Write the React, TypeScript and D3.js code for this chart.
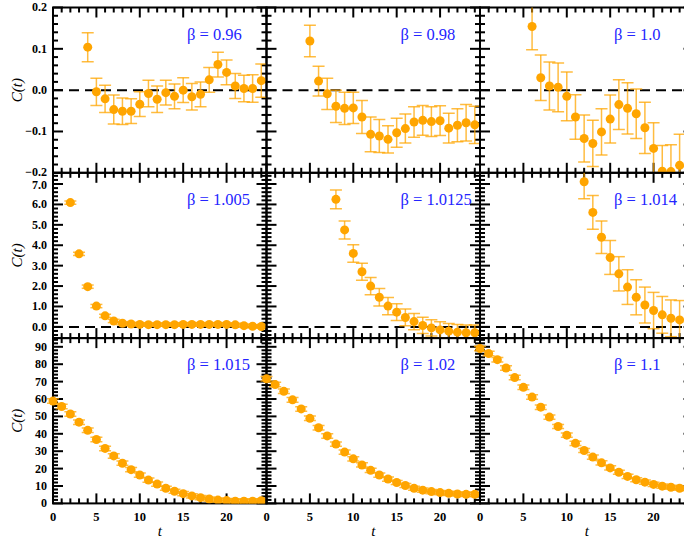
import React from 'react';
import * as d3 from 'd3';

// beta labels, panel order: row by row
const betas = ['0.96', '0.98', '1.0', '1.005', '1.0125', '1.014', '1.015', '1.02', '1.1'];
// first time slice of each series
const startT = [4, 5, 6, 2, 8, 12, 0, 0, 0];

const c096 = [0.104, -0.004, -0.021, -0.047, -0.051, -0.051, -0.034, -0.008, -0.022, -0.006, -0.015, 0.0, -0.016, -0.01, 0.025, 0.062, 0.043, 0.01, 0.004, 0.004, 0.023];
const e096 = [0.035, 0.033, 0.033, 0.035, 0.032, 0.03, 0.03, 0.032, 0.032, 0.03, 0.03, 0.03, 0.032, 0.03, 0.03, 0.03, 0.03, 0.03, 0.032, 0.033, 0.04];

const c098 = [0.119, 0.022, -0.009, -0.039, -0.044, -0.043, -0.065, -0.107, -0.111, -0.119, -0.103, -0.093, -0.077, -0.073, -0.076, -0.074, -0.092, -0.085, -0.079, -0.084];
const e098 = [0.038, 0.036, 0.038, 0.039, 0.039, 0.038, 0.04, 0.042, 0.04, 0.033, 0.035, 0.035, 0.037, 0.036, 0.036, 0.036, 0.036, 0.04, 0.044, 0.045];

const c100 = [0.154, 0.03, 0.01, 0.007, -0.015, -0.065, -0.117, -0.129, -0.101, -0.07, -0.035, -0.044, -0.057, -0.091, -0.141, -0.196, -0.197, -0.182];
const e100 = [0.056, 0.055, 0.058, 0.059, 0.059, 0.054, 0.057, 0.056, 0.056, 0.058, 0.06, 0.062, 0.06, 0.062, 0.062, 0.062, 0.065, 0.075];

const c1005 = [6.09, 3.58, 1.97, 1.02, 0.54, 0.29, 0.18, 0.14, 0.12, 0.11, 0.11, 0.11, 0.11, 0.12, 0.12, 0.12, 0.12, 0.12, 0.12, 0.1, 0.06, 0.03, 0.02];
const e1005 = [0.08, 0.08, 0.08, 0.08, 0.08, 0.08, 0.08, 0.08, 0.08, 0.08, 0.08, 0.08, 0.08, 0.08, 0.08, 0.08, 0.08, 0.08, 0.08, 0.08, 0.08, 0.08, 0.08];

const c10125 = [6.25, 4.75, 3.6, 2.7, 2.0, 1.45, 1.02, 0.72, 0.46, 0.26, 0.07, -0.05, -0.15, -0.21, -0.26, -0.29, -0.29];
const e10125 = [0.46, 0.44, 0.43, 0.42, 0.42, 0.43, 0.42, 0.41, 0.41, 0.4, 0.4, 0.4, 0.4, 0.38, 0.38, 0.38, 0.38];

const c1014 = [7.11, 5.61, 4.39, 3.4, 2.6, 1.95, 1.45, 1.07, 0.8, 0.59, 0.42, 0.34];
const e1014 = [0.83, 0.83, 0.8, 0.83, 0.84, 0.85, 0.86, 0.88, 0.89, 0.9, 0.9, 0.95];

const c1015 = [58.8, 55.7, 51.4, 46.7, 42.0, 36.7, 31.6, 27.3, 23.1, 19.4, 16.3, 13.4, 11.1, 8.7, 7.0, 5.6, 4.3, 3.3, 2.5, 1.9, 1.6, 1.3, 1.3, 1.3, 1.5];
const c102 = [71.6, 68.3, 64.4, 59.5, 54.3, 48.9, 43.5, 38.8, 34.1, 29.5, 25.6, 22.1, 19.0, 16.3, 14.0, 12.0, 10.3, 8.7, 7.6, 6.8, 6.2, 5.8, 5.4, 5.2, 5.2];
const c110 = [89.0, 86.1, 82.6, 77.8, 72.3, 66.7, 61.1, 55.3, 49.6, 44.2, 39.2, 34.5, 30.4, 26.6, 23.3, 20.4, 17.9, 15.5, 13.6, 12.2, 10.9, 9.9, 9.3, 8.7, 8.4];
const eBottom = [1.3, 1.3, 1.3, 1.3, 1.3, 1.3, 1.3, 1.3, 1.2, 1.2, 1.2, 1.2, 1.2, 1.2, 1.2, 1.2, 1.2, 1.2, 1.2, 1.2, 1.2, 1.2, 1.2, 1.2, 1.2];

const values = [c096, c098, c100, c1005, c10125, c1014, c1015, c102, c110];
const errors = [e096, e098, e100, e1005, e10125, e1014, eBottom, eBottom, eBottom];

const yDomains = [[-0.2, 0.2], [-0.55, 7.55], [0, 95]];
const yMajor = [[-0.2, -0.1, 0.0, 0.1, 0.2], [0, 1, 2, 3, 4, 5, 6, 7], [0, 10, 20, 30, 40, 50, 60, 70, 80, 90]];
const yMinorStep = [0.02, 0.2, 2];
const yFormat = ['.1f', '.1f', 'd'];
const xMajor = [0, 5, 10, 15, 20];

const W = 684, H = 540;
const left0 = 53, panelW = 213.5;
const top0 = 7.5, panelH = 165.3;
const orange = '#ffa500';
const serif = '"Liberation Serif", "Times New Roman", serif';

const x = d3.scaleLinear().domain([0, 24.6]).range([0, panelW]);

function Panel({ idx }: { idx: number }) {
  const row = Math.floor(idx / 3);
  const col = idx % 3;
  const px = left0 + col * panelW;
  const py = top0 + row * panelH;
  const y = d3.scaleLinear().domain(yDomains[row]).range([panelH, 0]);
  const [lo, hi] = yDomains[row];
  const step = yMinorStep[row];
  const minor = d3.range(Math.ceil(lo / step), Math.floor(hi / step) + 1).map(k => k * step);
  const xMinor = d3.range(0, 25);
  const pts = values[idx].map((v, i) => ({ t: startT[idx] + i, v, e: errors[idx][i] }));
  const clipId = `clip${idx}`;
  const fmt = d3.format(yFormat[row]);
  const majLen = 10, minLen = 5;
  // labels at the row seams sit very close, nudge them apart a little
  const nudge = (v: number) => {
    if (row === 0 && v === lo) return -1.2;
    if (row === 1 && v === 7) return 1.2;
    return 0;
  };

  return (
    <g transform={`translate(${px},${py})`}>
      {/* only clip vertically, points at t=0 spill over the left frame */}
      <clipPath id={clipId}>
        <rect x={-8} y={0} width={panelW + 8} height={panelH} />
      </clipPath>
      {row < 2 && (
        <line x1={0} x2={panelW} y1={y(0)} y2={y(0)} stroke="#000" strokeWidth={2} strokeDasharray="10,6" />
      )}
      <g stroke="#000" strokeWidth={2}>
        {xMinor.map(t => {
          const len = t % 5 === 0 ? majLen : minLen;
          return (
            <g key={`x${t}`}>
              <line x1={x(t)} x2={x(t)} y1={panelH} y2={panelH - len} />
              <line x1={x(t)} x2={x(t)} y1={0} y2={len} />
            </g>
          );
        })}
        {minor.map((v, i) => {
          const isMajor = yMajor[row].some(m => Math.abs(m - v) < 1e-9);
          const len = isMajor ? majLen : minLen;
          return (
            <g key={`y${i}`}>
              <line x1={0} x2={len} y1={y(v)} y2={y(v)} />
              <line x1={panelW} x2={panelW - len} y1={y(v)} y2={y(v)} />
            </g>
          );
        })}
      </g>
      <rect x={0} y={0} width={panelW} height={panelH} fill="none" stroke="#000" strokeWidth={2} />
      <g clipPath={`url(#${clipId})`}>
        {pts.map((p, i) => {
          const cx = x(p.t);
          const y1 = y(p.v - p.e), y2 = y(p.v + p.e);
          return (
            <g key={i}>
              <g stroke={orange} strokeWidth={1.5} strokeOpacity={0.75}>
                <line x1={cx} x2={cx} y1={y1} y2={y2} />
                <line x1={cx - 6} x2={cx + 6} y1={y1} y2={y1} />
                <line x1={cx - 6} x2={cx + 6} y1={y2} y2={y2} />
              </g>
              <circle cx={cx} cy={y(p.v)} r={4.5} fill={orange} />
            </g>
          );
        })}
      </g>
      <text x={134} y={32} fill="#2424ff" fontFamily={serif} fontSize={16.5}>
        {`β = ${betas[idx]}`}
      </text>
      {col === 0 &&
        yMajor[row].map(v => (
          <text key={`yl${v}`} x={-6} y={y(v) + nudge(v)} dy="0.33em" textAnchor="end" fontFamily={serif} fontWeight="bold" fontSize={12}>
            {fmt(v)}
          </text>
        ))}
      {col === 0 && (
        <text transform={`translate(${-36},${panelH / 2}) rotate(-90)`} dy="0.35em" textAnchor="middle" fontFamily={serif} fontStyle="italic" fontSize={15}>
          C(t)
        </text>
      )}
      {row === 2 &&
        xMajor.map(t => (
          <text key={`xl${t}`} x={x(t)} y={panelH + 18} textAnchor="middle" fontFamily={serif} fontWeight="bold" fontSize={12.5}>
            {t}
          </text>
        ))}
      {row === 2 && (
        <text x={panelW / 2} y={panelH + 33} textAnchor="middle" fontFamily={serif} fontStyle="italic" fontSize={15}>
          t
        </text>
      )}
    </g>
  );
}

export default function App() {
  return (
    <svg width={W} height={H} style={{ position: 'absolute', left: 0, top: 0, background: '#fff' }}>
      {d3.range(9).map(i => (
        <Panel key={i} idx={i} />
      ))}
    </svg>
  );
}
